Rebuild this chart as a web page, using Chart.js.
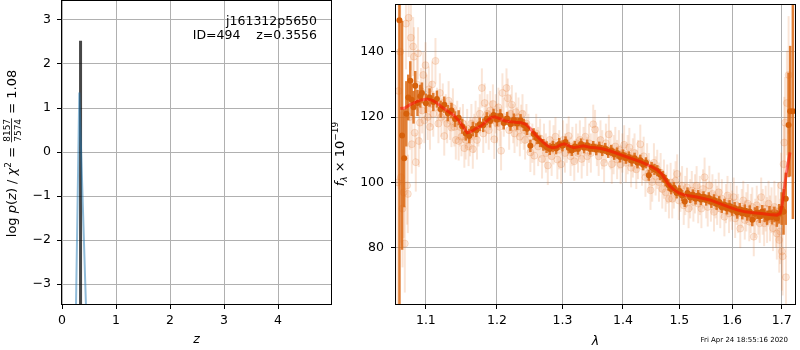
<!DOCTYPE html>
<html><head><meta charset="utf-8">
<script src="https://cdn.jsdelivr.net/npm/chart.js@4"></script>
<style>
html,body{margin:0;padding:0;background:#fff;}
#wrap{position:relative;width:800px;height:350px;overflow:hidden;background:#fff;}
canvas{position:absolute;top:0;}
#c1{left:0;}
#c2{left:332px;}
</style></head><body>
<div id="wrap">
<canvas id="c1" width="340" height="350"></canvas>
<canvas id="c2" width="468" height="350"></canvas>
</div>
<script>
// ---------- left panel: log p(z) ----------
const zTicks = [0,1,2,3,4];
const lpTicks = [-3,-2,-1,0,1,2,3];
const zBest = [0.336, 0.341, 0.346];
const lpBest = [-3.6, 2.53, -3.6];
const zPz = [0.259, 0.320, 0.444];
const lpPz = [-3.5, 1.35, -3.5];

// ---------- right panel: spectrum ----------
const lamTicks = [1.1,1.2,1.3,1.4,1.5,1.6,1.7];
const fluxTicks = [80,100,120,140];

const lamModel = [1.066,1.072,1.079,1.086,1.093,1.101,1.108,1.115,1.122,1.130,
  1.138,1.145,1.152,1.157,1.163,1.170,1.177,1.184,1.191,1.197,
  1.204,1.212,1.220,1.228,1.236,1.243,1.250,1.256,1.263,1.270,
  1.277,1.284,1.291,1.297,1.303,1.310,1.318,1.326,1.334,1.344,
  1.354,1.365,1.377,1.388,1.399,1.410,1.420,1.430,1.440,1.450,
  1.460,1.468,1.475,1.482,1.490,1.499,1.508,1.518,1.530,1.545,
  1.560,1.575,1.593,1.610,1.626,1.642,1.658,1.675,1.690,1.697,
  1.701,1.705,1.710,1.7175];
const fluxModel = [122.6,122.8,123.8,124.6,125.2,125.5,125.2,124.3,123.0,121.8,
  120.6,119.0,116.8,115.2,115.6,116.6,117.3,118.6,119.8,120.1,
  119.5,118.8,118.6,118.4,118.3,117.8,116.5,115.0,113.6,112.3,
  111.2,110.6,110.8,111.5,111.8,111.3,110.6,110.9,111.2,110.8,
  110.6,110.3,109.7,109.0,108.3,107.6,107.0,106.4,105.6,104.8,
  103.8,102.6,100.8,99.0,97.8,96.8,96.2,95.9,95.6,95.1,
  94.5,93.6,92.5,91.6,91.0,90.7,90.5,90.2,90.0,90.6,
  93.0,97.5,103.0,109.2];

const lamBin = [1.0650,1.0684,1.0712,1.0740,1.0765,1.0792,1.0810,1.0835,1.0858,1.0888,1.0924,1.0947,
  1.100,1.105,1.110,1.115,1.120,1.125,1.130,1.135,1.140,1.145,
  1.150,1.155,1.160,1.165,1.170,1.175,1.180,1.185,1.190,1.195,
  1.200,1.205,1.210,1.215,1.220,1.225,1.230,1.235,1.240,1.245,
  1.250,1.255,1.260,1.265,1.270,1.275,1.280,1.285,1.290,1.295,
  1.300,1.305,1.310,1.315,1.320,1.325,1.330,1.335,1.340,1.345,
  1.350,1.355,1.360,1.365,1.370,1.375,1.380,1.385,1.390,1.395,
  1.400,1.405,1.410,1.415,1.420,1.425,1.430,1.435,1.440,1.445,
  1.450,1.455,1.460,1.465,1.470,1.475,1.480,1.485,1.490,1.495,
  1.500,1.505,1.510,1.515,1.520,1.525,1.530,1.535,1.540,1.545,
  1.550,1.555,1.560,1.565,1.570,1.575,1.580,1.585,1.590,1.595,
  1.600,1.605,1.610,1.615,1.620,1.625,1.630,1.635,1.640,1.645,
  1.650,1.655,1.660,1.665,1.670,1.675,1.680,1.685,1.690,1.695,
  1.7000,1.7040,1.7086,1.7145,1.7178,1.7235];
const fluxBin = [149.6,114.4,107.4,121,126,131.1,125.3,123,129.6,124.3,126.4,127.4,
  124.2,126.0,124.6,125.5,122.4,123.8,121.2,122.0,119.4,119.8,
  117.2,115.0,114.2,116.4,116.0,117.8,117.5,119.5,118.8,120.6,
  119.2,120.4,118.2,119.6,117.8,119.2,118.0,119.0,117.6,116.4,
  111.2,114.8,113.5,112.6,111.5,110.8,110.2,111.0,110.4,111.8,
  111.2,112.4,110.6,109.8,111.0,110.2,111.8,110.6,111.4,110.2,
  111.0,110.0,110.8,109.8,110.4,109.2,109.8,108.6,109.0,107.8,
  108.4,107.4,107.8,106.6,107.4,106.0,106.8,105.4,106.0,102.2,
  104.6,104.0,103.6,102.4,101.8,100.6,99.2,98.0,98.4,96.8,
  97.4,96.0,94.2,96.8,95.4,96.2,95.0,96.0,94.8,95.6,
  94.6,95.2,94.0,94.6,93.4,94.0,92.4,93.2,92.0,92.8,
  91.6,92.2,90.8,91.8,90.6,91.4,90.2,91.0,88.6,90.4,
  90.8,89.6,91.0,90.0,89.2,90.6,89.4,90.2,89.0,90.4,
  92,91,95,117.6,121.8,121.8];
const errBin = [95,35,15,10,7,6,5,5,4.5,4,3.5,3.2,
  3.0,2.8,2.8,2.6,2.6,2.5,2.5,2.4,2.4,2.3,
  2.3,2.2,2.2,2.2,2.1,2.1,2.1,2.0,2.0,2.0,
  2.0,2.0,2.0,2.0,2.0,1.9,1.9,1.9,1.9,1.9,
  1.9,1.8,1.8,1.8,1.8,1.8,1.8,1.8,1.8,1.8,
  1.7,1.7,1.7,1.7,1.7,1.7,1.7,1.7,1.7,1.7,
  1.7,1.7,1.7,1.7,1.7,1.7,1.7,1.7,1.7,1.7,
  1.7,1.7,1.7,1.7,1.7,1.7,1.7,1.7,1.7,1.7,
  1.7,1.7,1.7,1.7,1.7,1.7,1.7,1.7,1.7,1.7,
  1.7,1.7,1.7,1.7,1.7,1.7,1.7,1.7,1.7,1.7,
  1.7,1.8,1.8,1.8,1.8,1.8,1.8,1.8,1.8,1.8,
  1.8,1.8,1.9,1.9,1.9,1.9,1.9,2.0,2.0,2.0,
  2.0,2.0,2.1,2.1,2.2,2.2,2.3,2.4,2.6,3.0,
  5,7,8,16,20,33];

const lamRaw = [1.0625,1.0640,1.0660,1.0670,1.0690,1.0705,1.0720,1.0735,1.0750,1.0760,
  1.0770,1.0785,1.0800,1.0812,1.0830,1.0840,1.0850,1.0865,1.0880,1.0895,
  1.0905,1.0920,1.0935,1.0950,1.0965,1.0980,1.0995,1.1010,1.1025,1.1040,
  1.1055,1.1070,1.1085,1.1100,1.1130,1.1150,1.1170,1.1190,1.1210,1.1230,
  1.1250,1.1270,1.1290,1.1310,1.1330,1.1350,1.1370,1.1390,1.1410,1.1430,
  1.1450,1.1470,1.1490,1.1510,1.1530,1.1550,1.1570,1.1590,1.1610,1.1630,
  1.1650,1.1670,1.1690,1.1710,1.1730,1.1750,1.1780,1.1800,1.1820,1.1840,
  1.1860,1.1880,1.1900,1.1920,1.1940,1.1960,1.1980,1.2000,1.2020,1.2040,
  1.2060,1.2080,1.2100,1.2140,1.2160,1.2180,1.2200,1.2220,1.2240,1.2260,
  1.2280,1.2300,1.2320,1.2340,1.2360,1.2380,1.2400,1.2420,1.2440,1.2470,
  1.2500,1.2530,1.2560,1.2590,1.2620,1.2650,1.2680,1.2710,1.2740,1.2770,
  1.2800,1.2830,1.2860,1.2890,1.2920,1.2950,1.2980,1.3010,1.3040,1.3070,
  1.3100,1.3130,1.3160,1.3190,1.3220,1.3250,1.3280,1.3310,1.3340,1.3370,
  1.3400,1.3430,1.3460,1.3500,1.3530,1.3560,1.3590,1.3620,1.3650,1.3680,
  1.3710,1.3760,1.3790,1.3810,1.3840,1.3870,1.3900,1.3930,1.3960,1.3990,
  1.4020,1.4050,1.4080,1.4110,1.4140,1.4170,1.4200,1.4230,1.4260,1.4300,
  1.4330,1.4360,1.4390,1.4420,1.4450,1.4480,1.4510,1.4540,1.4570,1.4600,
  1.4630,1.4660,1.4690,1.4720,1.4750,1.4780,1.4810,1.4840,1.4870,1.4900,
  1.4930,1.4960,1.4990,1.5020,1.5050,1.5080,1.5110,1.5140,1.5170,1.5200,
  1.5230,1.5260,1.5290,1.5320,1.5350,1.5380,1.5410,1.5440,1.5470,1.5500,
  1.5530,1.5560,1.5590,1.5620,1.5650,1.5680,1.5710,1.5740,1.5770,1.5800,
  1.5850,1.5880,1.5910,1.5940,1.5970,1.6000,1.6030,1.6060,1.6090,1.6120,
  1.6160,1.6190,1.6220,1.6250,1.6280,1.6310,1.6340,1.6370,1.6400,1.6430,
  1.6460,1.6490,1.6520,1.6550,1.6580,1.6610,1.6640,1.6670,1.6700,1.6730,
  1.6760,1.6790,1.6820,1.6850,1.6880,1.6900,1.6930,1.6950,1.6970,1.6990,
  1.7005,1.7020,1.7040,1.7055,1.7070,1.7090,1.7110,1.7145];
const fluxRaw = [100,128,140,101.6,92,97,81.3,148.6,99.1,96.5,
  150.4,120,144.3,111.7,141.6,138.5,115.2,106.2,130,139.5,
  112.7,118.3,128,122,132.9,119,135.9,126,120,128.5,
  117,124,130,121,137.2,123,118,127.4,120,124.3,
  114.2,121,118,125,119,116.8,122.8,117,113,119,
  112.7,117,114,118,110.5,113,116.5,111,114,118,
  110.2,115,119,113,117,121,128.9,115,124.3,118,
  121,116,122,119,124,113.2,121,118,123,117,
  109.7,127.4,120,128.9,125.8,116,121,123.8,118,115,
  121.5,117,120,114,117.8,121,116,113,118,115,
  109.2,112,108.2,115,111,113.5,107.2,112,109,105.2,
  113,108,111.5,114,107,110,105.6,113,109,112,
  114.2,108,111,106.5,112,109,113,107.2,111,114,
  108,112,109,117.8,116.2,111,108,113,110,106,
  112,114.7,110,105.6,108.5,111,107,110,105.5,109,
  111.5,106,108.5,110.7,104.5,107.5,109,104,107,111.7,
  105,108,101.6,106,103,97.6,100.1,106,102,104,
  100.1,103,98,101,97,99.5,95,100,95,98,
  100.5,102.6,94.5,97,99,93,96,98.5,92,95,
  97.5,94,96.5,99,93.5,96,92,98,101.6,95,
  92.5,99.1,94,96.5,91,95,93,97,92,95,
  89.5,93.5,96,90.5,94,91.5,95.5,89,93,90.5,
  85.9,92,94.5,88.5,91,93.5,88,90.5,92.5,83.4,
  89,93,90,87.5,95.5,91,87.5,92,88.5,93.5,
  89,91.5,86,92.5,88,84.4,91,82.4,85,99.1,
  78.9,77.4,105.6,112.2,118.3,71,124.3,132.9];
const errRaw = [40,30,25,20,18,14,15,14,12,12,
  12,10,10,9,9,9,8,9,8,8,
  8,8,7,7,7,7,7,7,7,7,
  7,7,7,7,7,6,6,6,6,6,
  6,6,6,6,6,6,6,6,6,6,
  6,6,6,6,6,6,6,6,6,6,
  6,6,6,6,6,6,6,6,6,6,
  6,6,6,6,6,6,6,6,6,6,
  6,6,6,6,6,6,6,6,6,6,
  6,6,6,6,6,6,6,6,6,6,
  6,6,6,6,6,6,6,6,6,6,
  6,6,6,6,6,6,6,6,6,6,
  6,6,6,6,6,6,6,6,6,6,
  6,6,6,6,6,6,6,6,6,6,
  6,6,6,6,6,6,6,6,6,6,
  6,6,6,6,6,6,6,6,6,6,
  6,6,6,6,6,6,6,6,6,6,
  6,6,6,6,6,6,6,6,6,6,
  6,6,6,6,6,6,6,6,6,6,
  6,6,6,6,6,6,6,6,6,6,
  6,6,6,6,6,6,6,6,6,6,
  6,6,6,6,6,6,6,6,6,6,
  6,6,6,6,6,6,6,6,6,6,
  6,6,6,6,6,7,7,7,7,7,
  7,7,7,8,8,8,9,10,10,10,
  12,12,12,14,14,16,16,18];

// ---------- shared helpers ----------
const FONT = '"DejaVu Sans", "Liberation Sans", sans-serif';
const FS = 12.5;
Chart.defaults.font.family = FONT;
Chart.defaults.font.size = FS;
Chart.defaults.color = '#000';

const fmtNum = v => (v < 0 ? '\u2212' + Math.abs(v) : String(v));

const framePlugin = {
  id: 'frame',
  afterDatasetsDraw(chart) {
    const a = chart.chartArea, c = chart.ctx;
    c.save();
    c.strokeStyle = '#000';
    c.lineWidth = 1;
    c.strokeRect(Math.round(a.left) - 0.5, Math.round(a.top) - 0.5,
                 Math.round(a.right - a.left) + 1, Math.round(a.bottom - a.top) + 1);
    c.restore();
  }
};

const errPlugin = {
  id: 'errbars',
  beforeDatasetDraw(chart, args) {
    const ds = chart.data.datasets[args.index];
    if (!ds.errs) return;
    const xs = chart.scales.x, ys = chart.scales.y, a = chart.chartArea, c = chart.ctx;
    c.save();
    c.beginPath();
    c.rect(a.left, a.top, a.right - a.left, a.bottom - a.top);
    c.clip();
    c.strokeStyle = ds.errColor;
    c.lineWidth = ds.errWidth;
    ds.data.forEach((p, i) => {
      const x = xs.getPixelForValue(p.x);
      c.beginPath();
      c.moveTo(x, ys.getPixelForValue(p.y - ds.errs[i]));
      c.lineTo(x, ys.getPixelForValue(p.y + ds.errs[i]));
      c.stroke();
    });
    c.restore();
  }
};

const axisCommon = (ticksArr, fmt, pad, fit) => ({
  afterBuildTicks: s => { s.ticks = ticksArr.map(v => ({ value: v })); },
  ticks: { callback: fmt, color: '#000', padding: pad, maxRotation: 0, autoSkip: false, font: { size: FS } },
  grid: { color: '#b0b0b0', lineWidth: 1, tickColor: '#000', tickLength: 5, drawTicks: true },
  border: { display: false },
  afterFit: s => { fit(s); s.paddingTop = 0; s.paddingBottom = 0; s.paddingLeft = 0; s.paddingRight = 0; }
});

// ---------- left chart ----------
const leftText = {
  id: 'leftText',
  afterDraw(chart) {
    const c = chart.ctx, a = chart.chartArea;
    c.save();
    c.fillStyle = '#000';
    c.textAlign = 'right';
    c.textBaseline = 'alphabetic';
    c.font = FS + 'px ' + FONT;
    c.fillText('j161312p5650', 317, 24.5);
    c.fillText('ID=494    z=0.3556', 317, 39);
    c.textAlign = 'center';
    c.font = 'italic ' + FS + 'px ' + FONT;
    c.fillText('z', (a.left + a.right) / 2, 343);
    c.translate(16, 153.5);
    c.rotate(-Math.PI / 2);
    c.textAlign = 'left';
    const N = '13px ' + FONT, I = 'italic 13px ' + FONT, S = '9px ' + FONT;
    const parts = [
      { t: 'log ', font: N }, { t: 'p', font: I }, { t: '(', font: N }, { t: 'z', font: I },
      { t: ')', font: N }, { t: ' / ', font: N }, { t: '\u03c7', font: I }, { t: '2', font: S, dy: -5 },
      { t: ' = ', font: N }, { frac: ['8157', '7574'] }, { t: ' = 1.08', font: N }
    ];
    let total = 0;
    parts.forEach(p => {
      if (p.frac) {
        c.font = S;
        p.w = Math.max(c.measureText(p.frac[0]).width, c.measureText(p.frac[1]).width) + 2;
      } else { c.font = p.font; p.w = c.measureText(p.t).width; }
      total += p.w;
    });
    let x = -total / 2;
    parts.forEach(p => {
      if (p.frac) {
        c.font = S;
        c.textAlign = 'center';
        c.fillText(p.frac[0], x + p.w / 2, -6.5);
        c.fillText(p.frac[1], x + p.w / 2, 4.5);
        c.fillRect(x + 0.5, -4.8, p.w - 1, 0.8);
        c.textAlign = 'left';
      } else {
        c.font = p.font;
        c.fillText(p.t, x, p.dy || 0);
      }
      x += p.w;
    });
    c.restore();
  }
};

new Chart(document.getElementById('c1'), {
  type: 'scatter',
  data: {
    datasets: [
      { data: zBest.map((x, i) => ({ x, y: lpBest[i] })), showLine: true, borderColor: 'rgba(0,0,0,0.72)',
        borderWidth: 3, pointRadius: 0, order: 2, clip: 0 },
      { data: zPz.map((x, i) => ({ x, y: lpPz[i] })), showLine: true, borderColor: 'rgba(31,119,180,0.5)',
        borderWidth: 2, pointRadius: 0, order: 1, clip: 0 }
    ]
  },
  options: {
    responsive: false, animation: false, events: [],
    layout: { padding: { left: 0, right: 9, top: 1, bottom: 0 } },
    plugins: { legend: { display: false }, tooltip: { enabled: false } },
    scales: {
      x: Object.assign({ type: 'linear', min: 0, max: 4.98 },
        axisCommon(zTicks, v => fmtNum(v), 4, s => { s.height = 46; })),
      y: Object.assign({ type: 'linear', min: -3.45, max: 3.43 },
        axisCommon(lpTicks, v => fmtNum(v), 6, s => { s.width = 62; }))
    }
  },
  plugins: [framePlugin, leftText]
});

// ---------- right chart ----------
const rightText = {
  id: 'rightText',
  afterDraw(chart) {
    const c = chart.ctx, a = chart.chartArea;
    c.save();
    c.fillStyle = '#000';
    c.textBaseline = 'alphabetic';
    c.textAlign = 'center';
    c.font = 'italic ' + FS + 'px ' + FONT;
    c.fillText('\u03bb', (a.left + a.right) / 2, 345);
    c.textAlign = 'right';
    c.font = '7px ' + FONT;
    c.fillText('Fri Apr 24 18:55:16 2020', 456, 341.5);
    c.translate(11.5, 154);
    c.rotate(-Math.PI / 2);
    c.textAlign = 'left';
    const N = '13px ' + FONT, I = 'italic 13px ' + FONT, SI = 'italic 9px ' + FONT, S = '9px ' + FONT;
    const parts = [
      { t: 'f', font: I }, { t: '\u03bb', font: SI, dy: 3 }, { t: ' \u00d7 10', font: N }, { t: '\u221219', font: S, dy: -5.5 }
    ];
    let total = 0;
    parts.forEach(p => { c.font = p.font; p.w = c.measureText(p.t).width; total += p.w; });
    let x = -total / 2;
    parts.forEach(p => { c.font = p.font; c.fillText(p.t, x, p.dy || 0); x += p.w; });
    c.restore();
  }
};

new Chart(document.getElementById('c2'), {
  type: 'scatter',
  data: {
    datasets: [
      { data: lamRaw.map((x, i) => ({ x, y: fluxRaw[i] })), errs: errRaw,
        errColor: 'rgba(228,125,55,0.2)', errWidth: 2,
        pointRadius: 3.5, pointBackgroundColor: 'rgba(228,125,55,0.16)',
        pointBorderColor: 'rgba(228,125,55,0.2)', pointBorderWidth: 1, order: 3, clip: 0 },
      { data: lamBin.map((x, i) => ({ x, y: fluxBin[i] })), errs: errBin,
        errColor: 'rgba(218,105,20,0.85)', errWidth: 2.5,
        pointRadius: 3, pointBackgroundColor: 'rgb(214,96,10)', pointBorderColor: 'rgb(214,96,10)',
        pointBorderWidth: 0, order: 2, clip: 0 },
      { data: lamModel.map((x, i) => ({ x, y: fluxModel[i] })), showLine: true,
        borderColor: 'rgba(255,0,0,0.5)', borderWidth: 3, pointRadius: 0, order: 1, clip: 0 }
    ]
  },
  options: {
    responsive: false, animation: false, events: [],
    layout: { padding: { left: 0, right: 2, top: 1, bottom: 0 } },
    plugins: { legend: { display: false }, tooltip: { enabled: false } },
    scales: {
      x: Object.assign({ type: 'logarithmic', min: 1.0605, max: 1.728 },
        axisCommon(lamTicks, v => Number(v).toFixed(1), 4, s => { s.height = 46; })),
      y: Object.assign({ type: 'linear', min: 62.8, max: 154.3 },
        axisCommon(fluxTicks, v => fmtNum(v), 7, s => { s.width = 64; }))
    }
  },
  plugins: [errPlugin, framePlugin, rightText]
});
</script>
</body></html>
